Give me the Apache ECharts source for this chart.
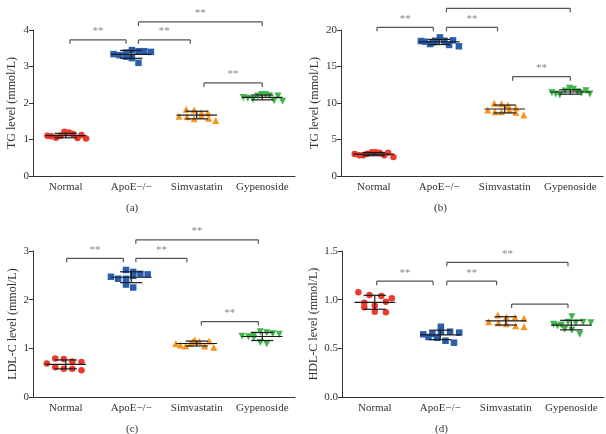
<!DOCTYPE html>
<html><head><meta charset="utf-8">
<script src="https://cdn.jsdelivr.net/npm/echarts@6/dist/echarts.min.js"></script>
<style>html,body{margin:0;padding:0;background:#fff}#c{width:606px;height:434px}</style>
</head><body><div id="c"></div>
<script>
const categories = ['Normal', 'ApoE\u2212/\u2212', 'Simvastatin', 'Gypenoside'];

// Each point: [horizontal spread within group (category units), value]
// (a) TG
const aNormal = [[-0.28,1.10],[-0.22,1.09],[-0.15,1.05],[-0.08,1.10],[-0.02,1.21],[0.05,1.19],[0.11,1.15],[0.18,1.04],[0.24,1.12],[0.31,1.03]];
const aApoE = [[-0.27,3.34],[-0.18,3.31],[-0.08,3.38],[-0.08,3.27],[0.01,3.45],[0.01,3.23],[0.11,3.42],[0.11,3.10],[0.20,3.42],[0.30,3.40]];
const aSim = [[-0.27,1.64],[-0.16,1.83],[-0.15,1.62],[-0.04,1.81],[-0.04,1.57],[0.07,1.74],[0.07,1.66],[0.17,1.73],[0.18,1.58],[0.29,1.52]];
const aGyp = [[-0.29,2.15],[-0.22,2.13],[-0.14,2.10],[-0.07,2.19],[-0.01,2.23],[0.05,2.23],[0.11,2.20],[0.18,2.06],[0.24,2.19],[0.31,2.05]];
// (b) TG
const bNormal = [[-0.29,3.01],[-0.22,2.83],[-0.16,2.83],[-0.10,3.05],[-0.03,3.24],[0.03,3.24],[0.09,3.19],[0.16,2.83],[0.22,3.19],[0.30,2.60]];
const bApoE = [[-0.28,18.49],[-0.22,18.40],[-0.14,18.08],[-0.10,18.30],[-0.06,18.53],[0.01,18.99],[0.08,18.53],[0.15,17.95],[0.21,18.58],[0.30,17.77]];
const bSim = [[-0.26,9.04],[-0.16,9.96],[-0.15,8.81],[-0.05,9.90],[-0.05,8.81],[0.05,9.73],[0.07,9.08],[0.17,9.36],[0.17,8.73],[0.29,8.36]];
const bGyp = [[-0.28,11.41],[-0.22,11.23],[-0.16,11.10],[-0.08,11.64],[-0.01,12.01],[0.05,11.88],[0.11,11.55],[0.17,11.34],[0.24,11.69],[0.30,11.23]];
// (c) LDL-C
const cNormal = [[-0.29,0.69],[-0.16,0.79],[-0.16,0.61],[-0.03,0.78],[-0.03,0.58],[0.10,0.73],[0.10,0.58],[0.24,0.72],[0.24,0.55]];
const cApoE = [[-0.31,2.47],[-0.20,2.43],[-0.08,2.61],[-0.08,2.43],[-0.08,2.31],[0.03,2.57],[0.03,2.49],[0.03,2.25],[0.14,2.53],[0.25,2.52]];
const cSim = [[-0.32,1.10],[-0.25,1.07],[-0.17,1.05],[-0.10,1.10],[-0.06,1.14],[-0.03,1.17],[0.04,1.14],[0.12,1.05],[0.19,1.15],[0.26,1.02]];
const cGyp = [[-0.31,1.25],[-0.21,1.24],[-0.13,1.27],[-0.13,1.21],[-0.03,1.34],[-0.03,1.12],[0.07,1.32],[0.07,1.09],[0.16,1.30],[0.26,1.29]];
// (d) HDL-C
const dNormal = [[-0.25,1.076],[-0.16,0.969],[-0.16,0.921],[-0.08,1.048],[0.0,0.938],[0.0,0.876],[0.10,1.038],[0.17,0.979],[0.17,0.870],[0.26,1.014]];
const dApoE = [[-0.26,0.644],[-0.18,0.616],[-0.12,0.647],[-0.05,0.609],[0.01,0.722],[0.01,0.671],[0.08,0.578],[0.15,0.671],[0.21,0.558],[0.29,0.661]];
const dSim = [[-0.26,0.774],[-0.12,0.843],[-0.11,0.764],[0.01,0.822],[0.01,0.753],[0.14,0.819],[0.15,0.733],[0.28,0.809],[0.28,0.723]];
const dGyp = [[-0.27,0.747],[-0.21,0.733],[-0.15,0.740],[-0.10,0.696],[-0.05,0.767],[0.01,0.825],[0.01,0.685],[0.07,0.760],[0.13,0.644],[0.18,0.767],[0.30,0.763]];

// Significance brackets: [from x, to x, level, label]
const aBrackets = [[0.065,0.92,3.73,'**'],[1.11,1.90,3.73,'**'],[1.11,3.0,4.22,'**'],[2.11,3.0,2.55,'**']];
const bBrackets = [[0.05,0.91,20.37,'**'],[1.11,1.89,20.37,'**'],[1.11,3.0,22.97,'**'],[2.12,3.0,13.6,'**']];
const cBrackets = [[0.015,0.88,2.85,'**'],[1.07,1.85,2.85,'**'],[1.07,2.94,3.23,'**'],[2.07,2.94,1.55,'**']];
const dBrackets = [[0.03,0.89,1.19,'**'],[1.10,1.86,1.19,'**'],[1.10,2.95,1.384,'**'],[2.09,2.95,0.955,'']];

const yNames = ['TG level (mmol/L)', 'TG level (mmol/L)', 'LDL-C level (mmol/L)', 'HDL-C level (mmol/L)'];
const yMax = [4, 20, 3, 1.5];
const yInterval = [1, 5, 1, 0.5];
const yDecimals = [0, 0, 0, 1];
const captions = ['(a)', '(b)', '(c)', '(d)'];

const panels = [
  {groups:[aNormal,aApoE,aSim,aGyp], brackets:aBrackets},
  {groups:[bNormal,bApoE,bSim,bGyp], brackets:bBrackets},
  {groups:[cNormal,cApoE,cSim,cGyp], brackets:cBrackets},
  {groups:[dNormal,dApoE,dSim,dGyp], brackets:dBrackets}
];

const colors = ['#ee3a2c', '#2b5fae', '#f7941e', '#3fb54b'];
const symbols = ['circle', 'rect', 'triangle', 'path://M0,0 L10,0 L5,9 Z'];
const symSizes = [6.5, 6.5, 7, 7];
const grids = [
  {left:33, top:30, width:262, height:146},
  {left:341, top:30, width:262, height:146},
  {left:33, top:251, width:262, height:146},
  {left:342, top:251, width:262, height:146}
];
const nameGaps = [15, 20, 14, 22];
const FONT = '"Liberation Serif", "DejaVu Serif", serif';

function stats(arr){
  const v = arr.map(p=>p[1]);
  const m = v.reduce((a,b)=>a+b,0)/v.length;
  const sd = Math.sqrt(v.reduce((a,b)=>a+(b-m)*(b-m),0)/(v.length-1));
  return [m, sd];
}

const xAxis = [], yAxis = [], series = [], graphic = [];
panels.forEach((p, i) => {
  xAxis.push({
    type:'category', gridIndex:i, data:categories,
    axisLine:{onZero:false, lineStyle:{color:'#333', width:1}},
    axisTick:{alignWithLabel:true, length:4, lineStyle:{color:'#333'}},
    axisLabel:{color:'#333', fontFamily:FONT, fontSize:11, margin:6, interval:0}
  });
  xAxis.push({type:'value', gridIndex:i, min:-0.5, max:3.5, show:false});
  yAxis.push({
    type:'value', gridIndex:i, min:0, max:yMax[i], interval:yInterval[i],
    name:yNames[i], nameLocation:'middle', nameGap:nameGaps[i],
    nameTextStyle:{color:'#333', fontFamily:FONT, fontSize:12},
    axisLine:{show:true, onZero:false, lineStyle:{color:'#333', width:1}},
    axisTick:{show:true, length:4, lineStyle:{color:'#333'}},
    splitLine:{show:false},
    axisLabel:{color:'#333', fontFamily:FONT, fontSize:11, margin:4,
      formatter:(v)=>v.toFixed(yDecimals[i])}
  });
  const meanData = [];
  p.groups.forEach((g, k) => {
    series.push({
      type:'scatter', xAxisIndex:2*i+1, yAxisIndex:i,
      data:g.map(pt=>[k+pt[0], pt[1]]),
      symbol:symbols[k], symbolSize:symSizes[k],
      itemStyle:{color:colors[k], opacity:1}, z:2, silent:true
    });
    const st = stats(g);
    meanData.push([k, st[0], st[1]]);
  });
  series.push({
    type:'custom', xAxisIndex:2*i+1, yAxisIndex:i, z:5, silent:true,
    data:meanData, encode:{x:0, y:1},
    renderItem:(params, api)=>{
      const x = api.value(0), m = api.value(1), s = api.value(2);
      const L = api.coord([x-0.31, m]), R = api.coord([x+0.31, m]);
      const T = api.coord([x, m+s]), B = api.coord([x, m-s]);
      const TL = api.coord([x-0.17, m+s]), TR = api.coord([x+0.17, m+s]);
      const BL = api.coord([x-0.17, m-s]), BR = api.coord([x+0.17, m-s]);
      const st = {stroke:'#1a1a1a', lineWidth:1.2};
      return {type:'group', children:[
        {type:'line', shape:{x1:L[0], y1:L[1], x2:R[0], y2:R[1]}, style:st},
        {type:'line', shape:{x1:T[0], y1:T[1], x2:B[0], y2:B[1]}, style:st},
        {type:'line', shape:{x1:TL[0], y1:TL[1], x2:TR[0], y2:TR[1]}, style:st},
        {type:'line', shape:{x1:BL[0], y1:BL[1], x2:BR[0], y2:BR[1]}, style:st}
      ]};
    }
  });
  series.push({
    type:'custom', xAxisIndex:2*i+1, yAxisIndex:i, z:5, silent:true, clip:false,
    data:p.brackets.map(b=>[b[0], b[1], b[2]]), encode:{x:[0,1], y:2},
    renderItem:(params, api)=>{
      const a = api.coord([api.value(0), api.value(2)]);
      const b = api.coord([api.value(1), api.value(2)]);
      const st = {stroke:'#555', lineWidth:1.2};
      const lab = p.brackets[params.dataIndex][3];
      const ch = [
        {type:'line', shape:{x1:a[0], y1:a[1], x2:b[0], y2:b[1]}, style:st},
        {type:'line', shape:{x1:a[0], y1:a[1], x2:a[0], y2:a[1]+4}, style:st},
        {type:'line', shape:{x1:b[0], y1:b[1], x2:b[0], y2:b[1]+4}, style:st}
      ];
      if (lab) ch.push({type:'text', style:{text:lab, x:(a[0]+b[0])/2, y:a[1]-3,
        textAlign:'center', textVerticalAlign:'bottom', fill:'#888',
        font:'11px ' + FONT}});
      return {type:'group', children:ch};
    }
  });
  graphic.push({type:'text', left:grids[i].left + 99 - 6, top:grids[i].top + 173,
    style:{text:captions[i], fill:'#333', font:'11px ' + FONT}});
});

const chart = echarts.init(document.getElementById('c'), null, {renderer:'canvas'});
chart.setOption({
  backgroundColor:'#fff', animation:false,
  grid:grids, xAxis:xAxis, yAxis:yAxis, series:series, graphic:graphic
});
</script>
</body></html>
